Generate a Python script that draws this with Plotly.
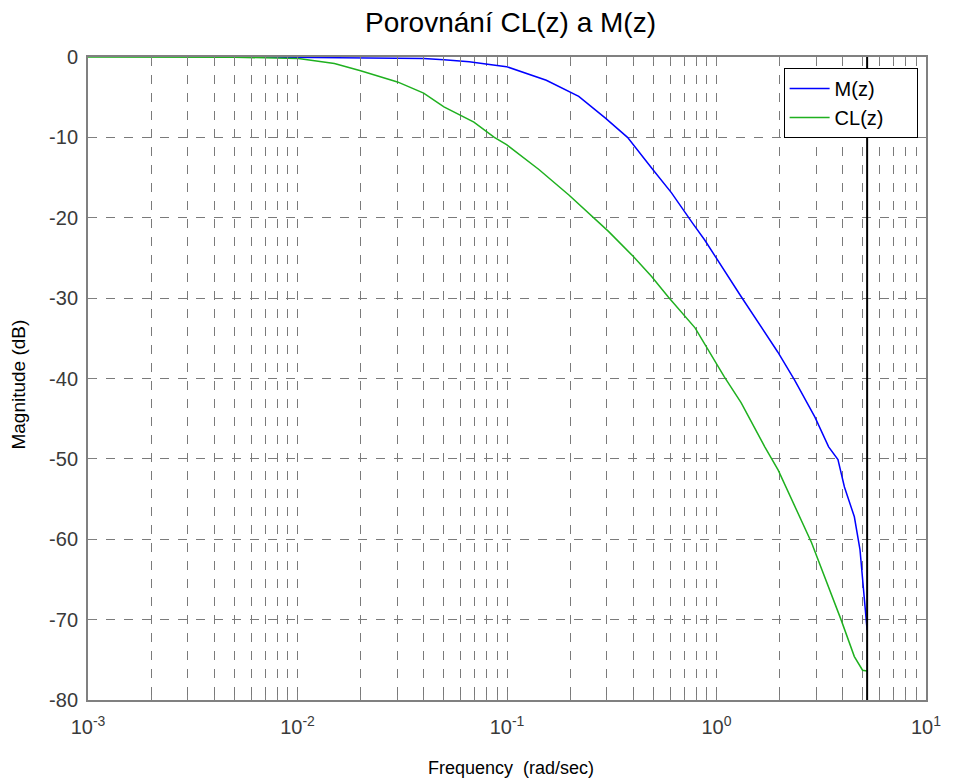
import plotly.graph_objects as go

# ---- data ----
m_freq = [0.0067, 0.01, 0.02, 0.03, 0.04, 0.05, 0.066, 0.086, 0.0995, 0.154, 0.198, 0.22,
          0.295, 0.376, 0.49, 0.61, 0.77, 0.88, 1.31, 1.96, 2.36, 2.95, 3.43, 3.8, 4.08,
          4.55, 4.84, 5.06, 5.236]
m_db = [0, -0.05, -0.1, -0.15, -0.2, -0.35, -0.6, -1.0, -1.2, -2.9, -4.3, -4.9,
        -7.6, -10.0, -13.8, -16.9, -20.7, -22.8, -29.8, -36.7, -40.2, -44.8, -48.5, -50.1, -53.5,
        -57.2, -61.3, -66.7, -71.3]

cl_freq = [0.001, 0.005, 0.0101, 0.015, 0.020, 0.030, 0.040, 0.050, 0.0695, 0.080, 0.087, 0.0995,
           0.142, 0.198, 0.257, 0.305, 0.40, 0.49, 0.59, 0.79, 1.09, 1.31, 1.7, 1.97, 2.84,
           3.93, 4.55, 4.98, 5.236]
cl_db = [0, -0.02, -0.2, -0.8, -1.7, -3.1, -4.5, -6.2, -8.1, -9.3, -10.0, -10.9,
         -14.0, -17.2, -19.9, -21.7, -24.8, -27.3, -29.9, -33.7, -39.8, -43.0, -48.5, -51.4, -60.4,
         -70.0, -74.6, -76.3, -76.4]

nyquist_freq = [5.236, 5.236]
nyquist_db = [-80, 0]

series_names = ["M(z)", "CL(z)"]

x_tickvals = [0.001, 0.01, 0.1, 1, 10]
x_ticktext = ["10<sup>-3</sup>", "10<sup>-2</sup>", "10<sup>-1</sup>", "10<sup>0</sup>", "10<sup>1</sup>"]
x_minorvals = [m * 10.0 ** e for e in range(-3, 1) for m in range(2, 10)]
y_tickvals = [0, -10, -20, -30, -40, -50, -60, -70, -80]
y_ticktext = ["0", "-10", "-20", "-30", "-40", "-50", "-60", "-70", "-80"]

title_text = "Porovnání CL(z) a M(z)"
xlabel = "Frequency\u00a0 (rad/sec)"
ylabel = "Magnitude (dB)"

FONT = "Liberation Sans, Arial, sans-serif"
GRID = "#7a7a7a"
PAD = "\u00a0" * 5

fig = go.Figure()
fig.add_trace(go.Scatter(x=m_freq, y=m_db, mode="lines", name=series_names[0] + PAD,
                         line=dict(color="#0000ff", width=1.5)))
fig.add_trace(go.Scatter(x=cl_freq, y=cl_db, mode="lines", name=series_names[1] + PAD,
                         line=dict(color="#1fb01f", width=1.5)))
fig.add_trace(go.Scatter(x=nyquist_freq, y=nyquist_db, mode="lines", showlegend=False,
                         line=dict(color="#000000", width=2), hoverinfo="skip"))

fig.update_layout(
    width=953, height=781,
    margin=dict(l=88, r=20, t=57, b=81),
    paper_bgcolor="white", plot_bgcolor="white",
    font=dict(family=FONT, color="#3a3a3a", size=20),
    title=dict(text=title_text, x=0.5357, xanchor="center", y=1 - 22 / 781, yanchor="middle",
               font=dict(size=28, color="#000000", family=FONT)),
    showlegend=True,
    legend=dict(x=0.99, xanchor="right", y=0.983, yanchor="top",
                bgcolor="white", bordercolor="#000000", borderwidth=1,
                font=dict(size=20, color="#000000", family=FONT),
                tracegroupgap=0, itemwidth=40),
    xaxis=dict(type="log", range=[-3, 1], tickvals=x_tickvals, ticktext=x_ticktext,
               showgrid=True, gridcolor=GRID, griddash="dash", gridwidth=1,
               showline=True, linecolor="#808080", linewidth=2, mirror="allticks",
               ticks="inside", ticklen=8, tickcolor="#808080",
               minor=dict(tickvals=x_minorvals, ticks="inside", ticklen=5, tickcolor="#808080",
                          showgrid=True, gridcolor=GRID, griddash="dash", gridwidth=1),
               ticklabelstandoff=8, zeroline=False),
    yaxis=dict(range=[-80, 0], tickvals=y_tickvals, ticktext=y_ticktext,
               showgrid=True, gridcolor=GRID, griddash="dash", gridwidth=1,
               showline=True, linecolor="#808080", linewidth=2, mirror="allticks",
               ticks="inside", ticklen=8, tickcolor="#808080",
               ticklabelstandoff=4, zeroline=False),
    annotations=[
        dict(text=xlabel, xref="paper", yref="paper", x=0.505, y=-(768 - 700) / 643,
             xanchor="center", yanchor="middle", showarrow=False,
             font=dict(size=18, color="#000000", family=FONT)),
        dict(text=ylabel, xref="paper", yref="paper", x=-(88 - 18) / 845, y=(700 - 385) / 643,
             xanchor="center", yanchor="middle", showarrow=False, textangle=-90,
             font=dict(size=19, color="#000000", family=FONT)),
    ],
)

fig.write_html("out.html")
